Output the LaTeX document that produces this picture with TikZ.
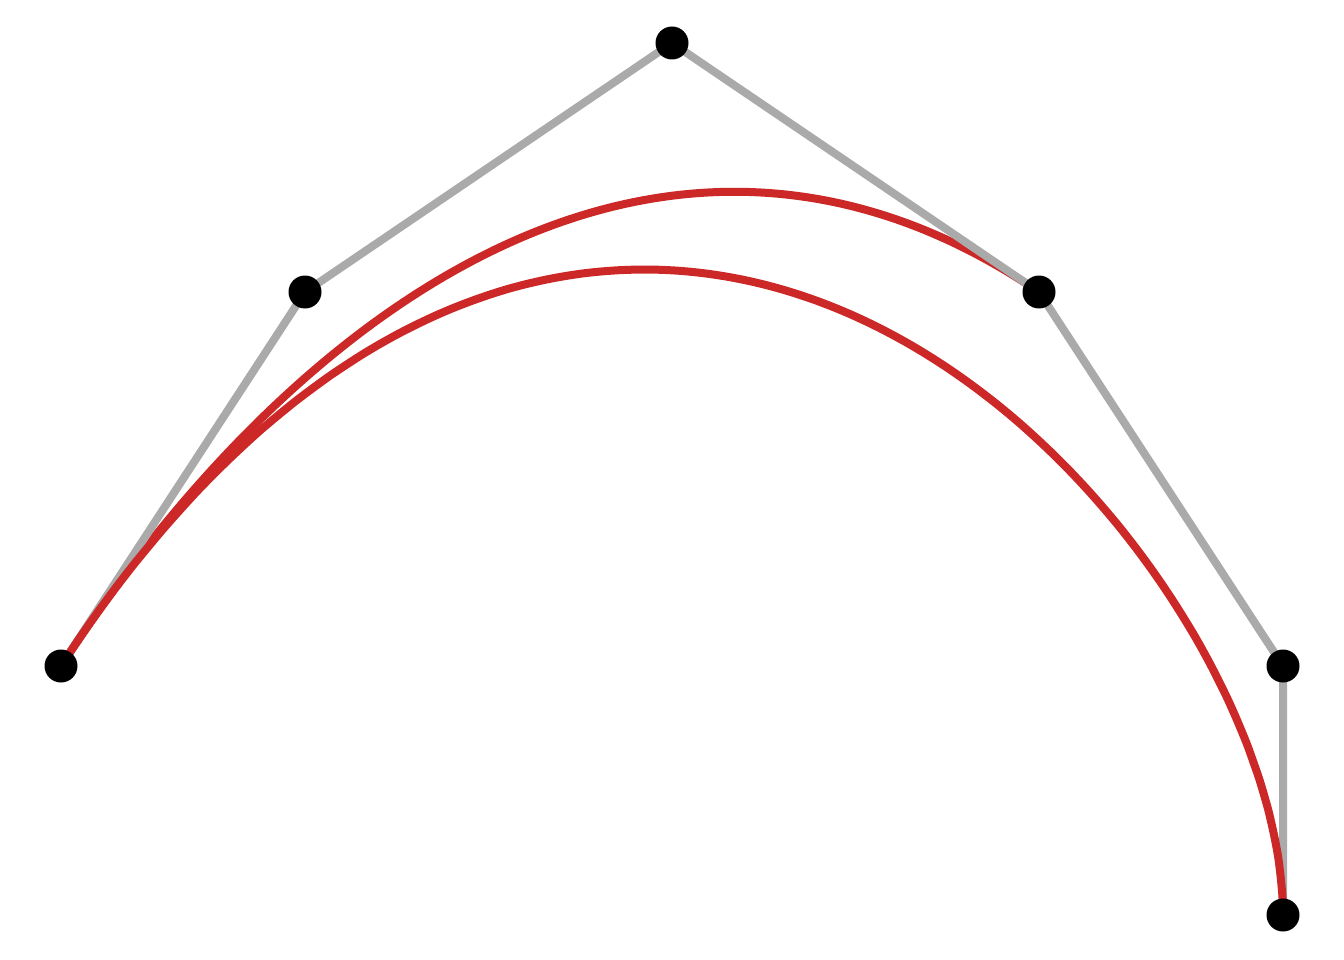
\documentclass[tikz,border=0pt]{standalone}
\definecolor{ctrlgray}{HTML}{AAAAAA}
\definecolor{curvered}{HTML}{CC2828}
\begin{document}
\begin{tikzpicture}[x=1pt,y=-1pt,
  dot/.style={circle,fill=black,inner sep=0pt,minimum size=33pt},
  ctrl/.style={draw=ctrlgray,line width=8pt,line join=round},
  curve/.style={draw=curvered,line width=8pt}]
\useasboundingbox (0,0) rectangle (1344,960);
\coordinate (c0) at (61,666);
\coordinate (c1) at (305,292);
\coordinate (c2) at (672,43);
\coordinate (c3) at (1039,292);
\coordinate (c4) at (1283,666);
\coordinate (c5) at (1283,915);
% cubic Bezier P0..P3
\draw[curve] (c0) .. controls (c1) and (c2) .. (c3);
% control polygon
\draw[ctrl] (c0) -- (c1) -- (c2) -- (c3) -- (c4) -- (c5);
% quintic Bezier P0..P5
\draw[curve] plot[domain=0:1,samples=90,variable=\t,smooth]
  ({61*(1-\t)^5 + 5*305*\t*(1-\t)^4 + 10*672*\t^2*(1-\t)^3 + 10*1039*\t^3*(1-\t)^2 + 5*1283*\t^4*(1-\t) + 1283*\t^5},
   {666*(1-\t)^5 + 5*292*\t*(1-\t)^4 + 10*43*\t^2*(1-\t)^3 + 10*292*\t^3*(1-\t)^2 + 5*666*\t^4*(1-\t) + 915*\t^5});
\node[dot] (p0) at (c0) {};
\node[dot] (p1) at (c1) {};
\node[dot] (p2) at (c2) {};
\node[dot] (p3) at (c3) {};
\node[dot] (p4) at (c4) {};
\node[dot] (p5) at (c5) {};
\end{tikzpicture}
\end{document}
